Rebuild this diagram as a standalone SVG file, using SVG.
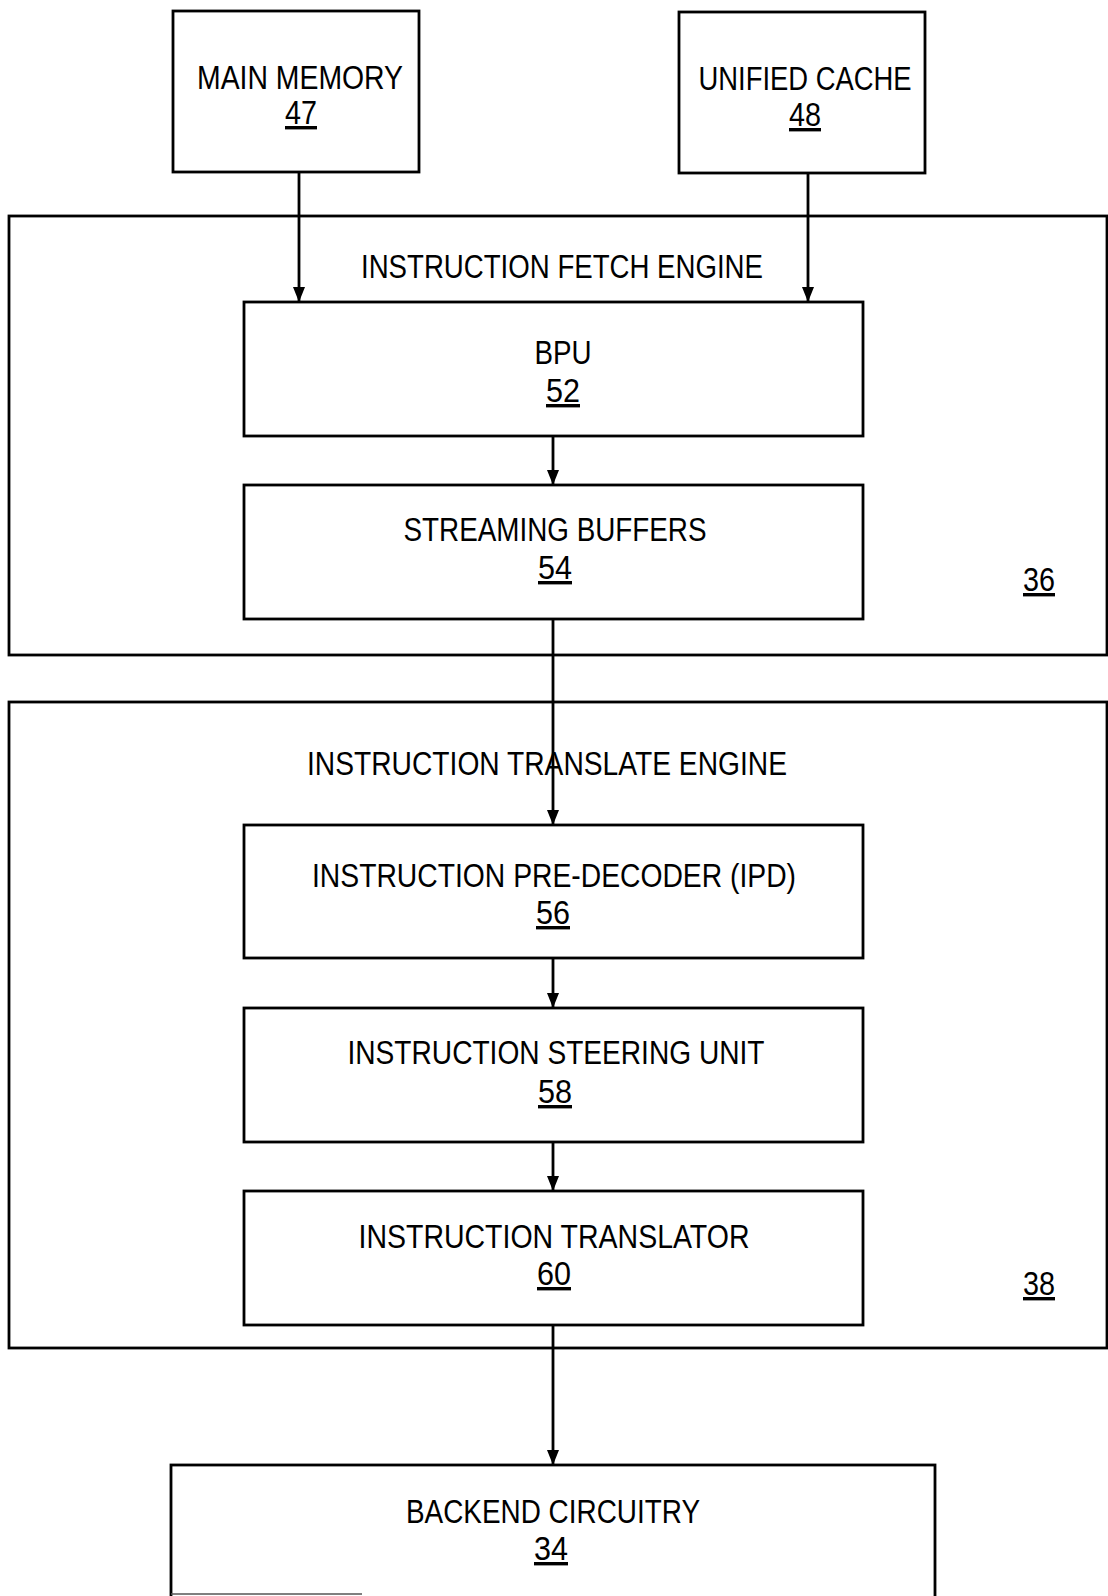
<svg xmlns="http://www.w3.org/2000/svg" width="1108" height="1596" viewBox="0 0 1108 1596">
<style>
.box{fill:none;stroke:#000;stroke-width:2.8}
.cont{fill:none;stroke:#000;stroke-width:2.8}
.t{font-family:"Liberation Sans",Arial,sans-serif;font-size:34px;fill:#000;text-anchor:middle}
.n{font-family:"Liberation Sans",Arial,sans-serif;font-size:34px;fill:#000;text-anchor:middle;text-decoration:underline}
.c{stroke:#000;stroke-width:2.8;fill:none;marker-end:url(#ah)}
</style>
<defs>
<marker id="ah" viewBox="0 0 15 12" refX="15" refY="6" markerWidth="15" markerHeight="12" markerUnits="userSpaceOnUse" orient="auto">
<path d="M0,0 L15,6 L0,12 z" fill="#000"/>
</marker>
</defs>
<rect width="1108" height="1596" fill="#fff"/>
<g id="fetch-engine">
<rect class="cont" x="9" y="216" width="1098" height="439"/>
<text class="t" x="562" y="278" textLength="402" lengthAdjust="spacingAndGlyphs">INSTRUCTION FETCH ENGINE</text>
<text class="n" x="1039" y="591" textLength="32" lengthAdjust="spacingAndGlyphs">36</text>
</g>
<g id="translate-engine">
<rect class="cont" x="9" y="702" width="1098" height="646"/>
<text class="t" x="547" y="775" textLength="480" lengthAdjust="spacingAndGlyphs">INSTRUCTION TRANSLATE ENGINE</text>
<text class="n" x="1039" y="1295" textLength="32" lengthAdjust="spacingAndGlyphs">38</text>
</g>
<g id="main-memory">
<rect class="box" x="173" y="11" width="246" height="161"/>
<text class="t" x="300" y="89" textLength="206" lengthAdjust="spacingAndGlyphs">MAIN MEMORY</text>
<text class="n" x="301" y="124" textLength="32" lengthAdjust="spacingAndGlyphs">47</text>
</g>
<g id="unified-cache">
<rect class="box" x="679" y="12" width="246" height="161"/>
<text class="t" x="805" y="90" textLength="213" lengthAdjust="spacingAndGlyphs">UNIFIED CACHE</text>
<text class="n" x="805" y="126" textLength="32" lengthAdjust="spacingAndGlyphs">48</text>
</g>
<g id="bpu">
<rect class="box" x="244" y="302" width="619" height="134"/>
<text class="t" x="563" y="364" textLength="57" lengthAdjust="spacingAndGlyphs">BPU</text>
<text class="n" x="563" y="402" textLength="34" lengthAdjust="spacingAndGlyphs">52</text>
</g>
<g id="streaming-buffers">
<rect class="box" x="244" y="485" width="619" height="134"/>
<text class="t" x="555" y="541" textLength="303" lengthAdjust="spacingAndGlyphs">STREAMING BUFFERS</text>
<text class="n" x="555" y="579" textLength="34" lengthAdjust="spacingAndGlyphs">54</text>
</g>
<g id="ipd">
<rect class="box" x="244" y="825" width="619" height="133"/>
<text class="t" x="554" y="887" textLength="484" lengthAdjust="spacingAndGlyphs">INSTRUCTION PRE-DECODER (IPD)</text>
<text class="n" x="553" y="924" textLength="34" lengthAdjust="spacingAndGlyphs">56</text>
</g>
<g id="steering-unit">
<rect class="box" x="244" y="1008" width="619" height="134"/>
<text class="t" x="556" y="1064" textLength="417" lengthAdjust="spacingAndGlyphs">INSTRUCTION STEERING UNIT</text>
<text class="n" x="555" y="1103" textLength="34" lengthAdjust="spacingAndGlyphs">58</text>
</g>
<g id="translator">
<rect class="box" x="244" y="1191" width="619" height="134"/>
<text class="t" x="554" y="1248" textLength="391" lengthAdjust="spacingAndGlyphs">INSTRUCTION TRANSLATOR</text>
<text class="n" x="554" y="1285" textLength="34" lengthAdjust="spacingAndGlyphs">60</text>
</g>
<g id="backend">
<rect class="box" x="171" y="1465" width="764" height="140"/>
<line x1="171" y1="1594" x2="362" y2="1594" stroke="#555" stroke-width="1.5"/>
<text class="t" x="553" y="1523" textLength="294" lengthAdjust="spacingAndGlyphs">BACKEND CIRCUITRY</text>
<text class="n" x="551" y="1560" textLength="34" lengthAdjust="spacingAndGlyphs">34</text>
</g>
<g id="connectors">
<line class="c" x1="299" y1="172" x2="299" y2="302"/>
<line class="c" x1="808" y1="173" x2="808" y2="302"/>
<line class="c" x1="553" y1="436" x2="553" y2="485"/>
<line class="c" x1="553" y1="619" x2="553" y2="825"/>
<line class="c" x1="553" y1="958" x2="553" y2="1008"/>
<line class="c" x1="553" y1="1142" x2="553" y2="1191"/>
<line class="c" x1="553" y1="1325" x2="553" y2="1465"/>
</g>
</svg>
